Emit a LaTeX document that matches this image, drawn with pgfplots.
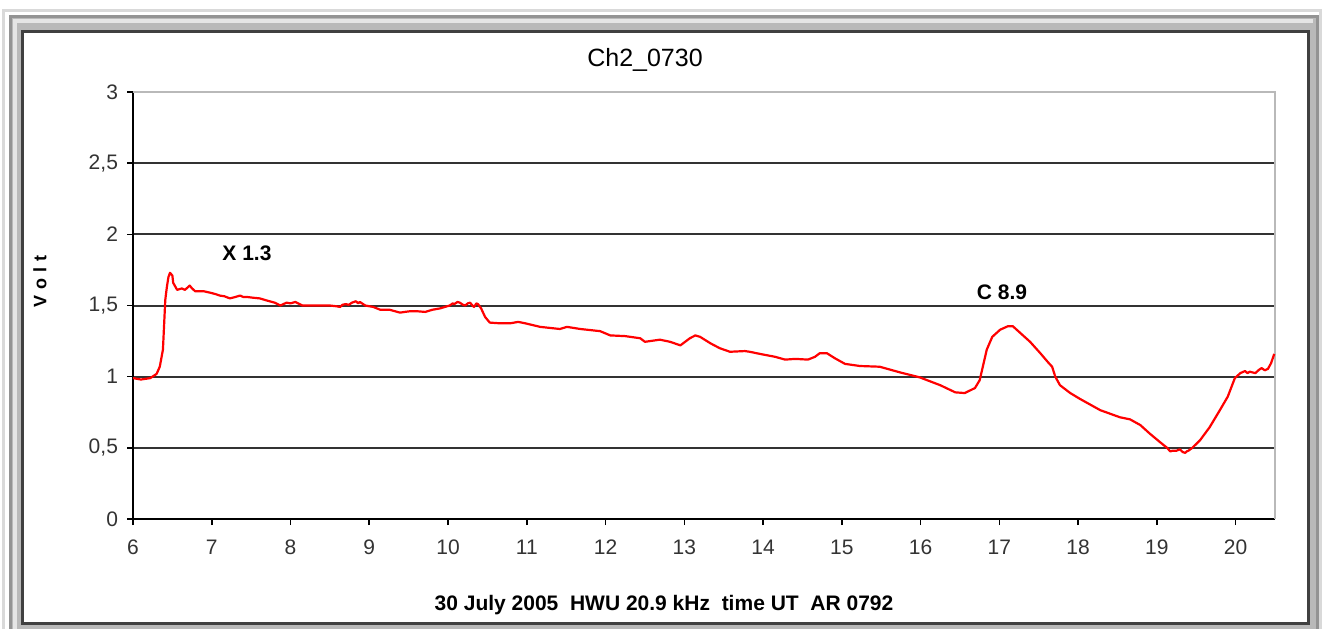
\documentclass[border=0pt]{standalone}
\usepackage{pgfplots}
\pgfplotsset{compat=1.18}
\usepackage{pgfplotstable}
\usepackage{fontspec}
\setmainfont{Liberation Sans}
\pgfplotstableread{
t v
6.00 0.99
6.10 0.98
6.22 0.99
6.30 1.02
6.34 1.07
6.38 1.19
6.41 1.54
6.43 1.63
6.45 1.70
6.47 1.73
6.50 1.71
6.51 1.66
6.56 1.61
6.62 1.62
6.66 1.61
6.72 1.64
6.75 1.62
6.79 1.60
6.90 1.60
6.98 1.59
7.05 1.58
7.10 1.57
7.16 1.565
7.23 1.55
7.30 1.56
7.36 1.57
7.40 1.56
7.45 1.56
7.52 1.555
7.61 1.55
7.70 1.535
7.80 1.52
7.87 1.50
7.95 1.52
8.00 1.515
8.06 1.525
8.15 1.50
8.50 1.50
8.58 1.495
8.63 1.49
8.66 1.505
8.70 1.51
8.74 1.505
8.78 1.52
8.83 1.53
8.86 1.515
8.88 1.525
8.95 1.50
9.05 1.49
9.14 1.47
9.26 1.47
9.39 1.45
9.45 1.455
9.52 1.46
9.60 1.46
9.71 1.455
9.80 1.47
9.90 1.48
9.96 1.49
10.02 1.50
10.06 1.515
10.08 1.51
10.12 1.525
10.15 1.52
10.19 1.505
10.22 1.50
10.25 1.515
10.28 1.52
10.31 1.50
10.33 1.49
10.36 1.515
10.38 1.51
10.42 1.48
10.47 1.42
10.53 1.38
10.66 1.375
10.79 1.375
10.89 1.385
10.98 1.375
11.17 1.35
11.42 1.335
11.51 1.35
11.68 1.335
11.93 1.32
12.06 1.29
12.25 1.285
12.44 1.27
12.50 1.245
12.69 1.26
12.82 1.245
12.95 1.22
13.07 1.27
13.14 1.29
13.20 1.28
13.33 1.235
13.45 1.20
13.58 1.175
13.77 1.18
13.83 1.175
13.96 1.16
14.15 1.14
14.28 1.12
14.41 1.125
14.57 1.12
14.66 1.14
14.72 1.165
14.81 1.165
14.91 1.13
15.04 1.09
15.23 1.075
15.48 1.07
15.74 1.03
15.99 0.995
16.25 0.94
16.44 0.89
16.56 0.885
16.69 0.92
16.75 0.975
16.79 1.07
16.84 1.19
16.91 1.28
17.01 1.33
17.11 1.355
17.17 1.355
17.26 1.31
17.39 1.245
17.52 1.165
17.62 1.10
17.67 1.07
17.71 1.00
17.77 0.94
17.90 0.885
18.02 0.845
18.28 0.765
18.53 0.715
18.66 0.70
18.79 0.66
18.91 0.60
19.04 0.54
19.13 0.50
19.17 0.475
19.20 0.48
19.25 0.48
19.29 0.49
19.33 0.47
19.36 0.465
19.38 0.475
19.40 0.48
19.45 0.50
19.55 0.555
19.67 0.645
19.80 0.765
19.90 0.86
19.99 0.99
20.06 1.025
20.12 1.04
20.15 1.025
20.18 1.035
20.25 1.025
20.30 1.05
20.33 1.06
20.37 1.045
20.41 1.055
20.45 1.095
20.49 1.16
}\datatable
\begin{document}
\begin{tikzpicture}
\path[use as bounding box] (0,0) rectangle (662.5pt,-314pt);
\clip (0,0) rectangle (662.5pt,-314pt);
\begin{scope}[x=0.5pt,y=-0.5pt]
  \fill[white] (0,0) rectangle (1325,628);
  \draw[gray!30, line width=1.5] (3,640) -- (3,10) -- (1320,10) -- (1320,640);
  \fill[gray!55, even odd rule] (10,16) rectangle (1318,660) (22,31) rectangle (1308,623);
  \draw[gray!85, line width=1.5] (10.5,660) -- (10.5,16.5) -- (1317.5,16.5) -- (1317.5,660);
  \draw[gray!20, line width=2] (15,660) -- (15,21) -- (1313,21);
  \draw[black!75, line width=1.5] (22,31) rectangle (1308,623);
  \node[font=\fontsize{12.5}{14}\selectfont] at (645,60) {Ch2\_0730};
  \node[font=\bfseries\fontsize{9}{10}\selectfont, rotate=90] at (40,281) {V\,\,o\,\,l\,\,t};
  \node[font=\bfseries\fontsize{10.5}{12}\selectfont] at (664,605) {30 July 2005\ \ HWU 20.9 kHz\ \ time UT\ \ AR 0792};
  \node[font=\bfseries\fontsize{10.5}{12}\selectfont] at (247,253) {X 1.3};
  \node[font=\bfseries\fontsize{10.5}{12}\selectfont] at (1002,292) {C 8.9};
\end{scope}
\begin{axis}[
  at={(66.5pt,-259.5pt)}, anchor=south west,
  width=571pt, height=213.5pt, scale only axis,
  xmin=6, xmax=20.5, ymin=0, ymax=3,
  xtick={6,...,20},
  ytick={0,0.5,...,2.5},
  extra y ticks={3},
  extra y tick style={grid=none},
  /pgf/number format/use comma,
  /pgf/number format/assume math mode=true,
  axis x line*=bottom, axis y line*=left,
  axis line style={black, line width=1pt},
  tick align=outside,
  major tick length=3pt,
  tick style={black, line width=0.8pt},
  ymajorgrids,
  grid style={black!80, line width=1pt},
  ticklabel style={font=\fontsize{10.5}{12}\selectfont, text=black!80},
  xticklabel style={yshift=-4pt},
  yticklabel style={xshift=-1pt},
  clip=false,
]
\draw[gray!55, line width=0.7pt] (rel axis cs:0,1) -- (rel axis cs:1,1) -- (rel axis cs:1,0);
\addplot[red, line width=1.1pt, line join=round, no marks] table[x=t, y=v] {\datatable};
\end{axis}
\end{tikzpicture}
\end{document}
